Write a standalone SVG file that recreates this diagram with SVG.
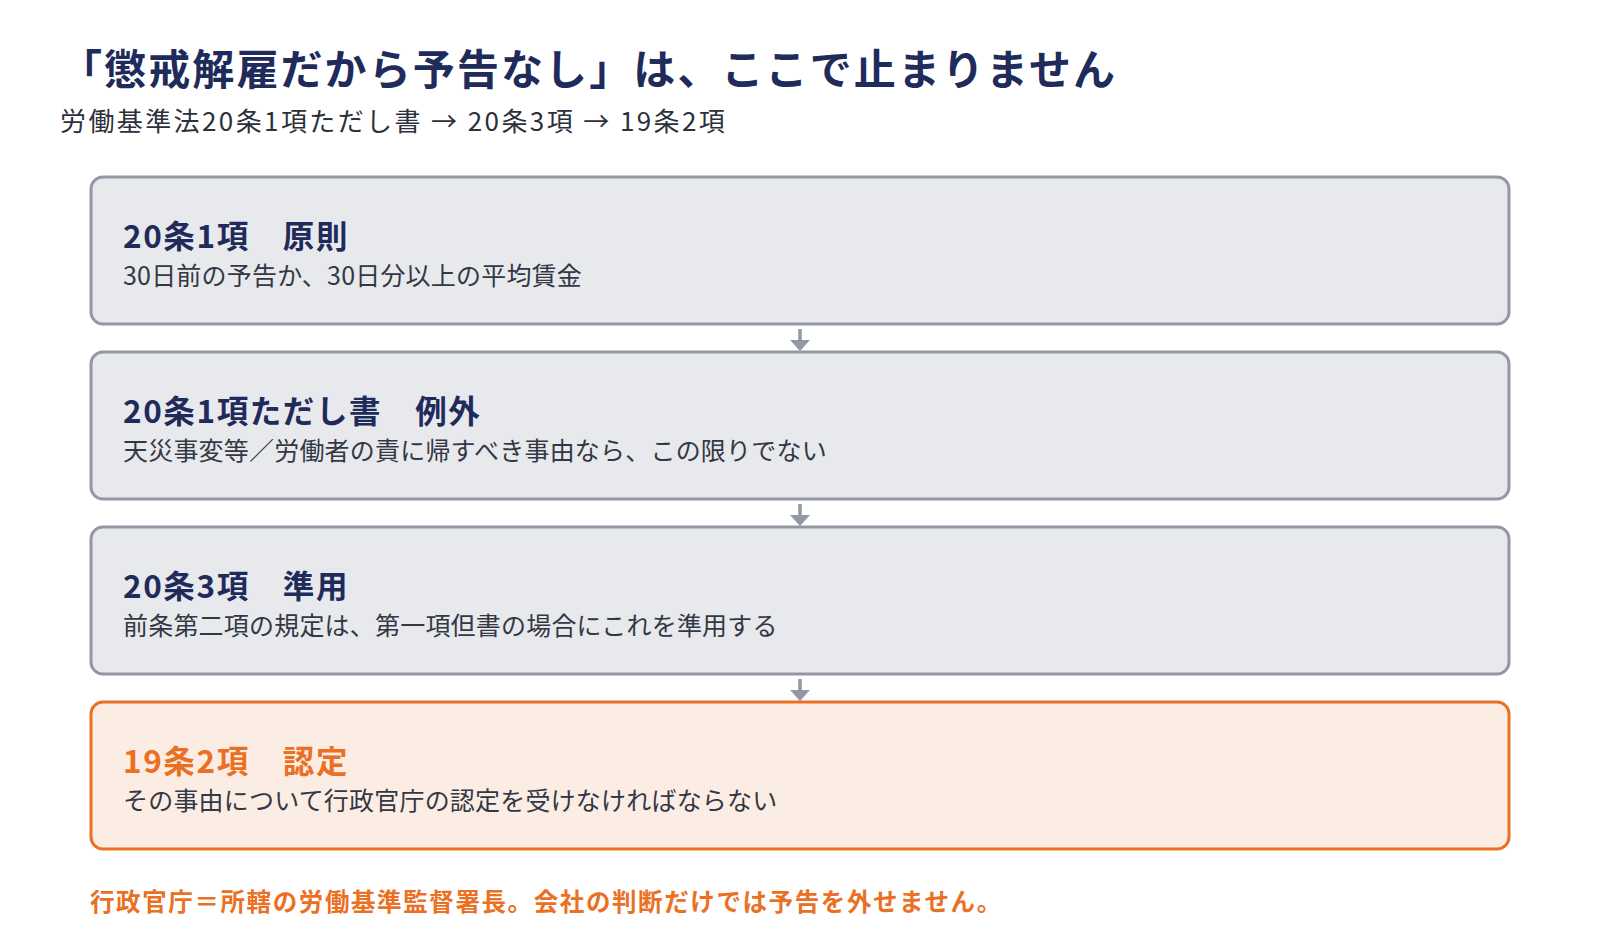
<svg xmlns="http://www.w3.org/2000/svg" width="1600" height="940" viewBox="0 0 1600 940">
<defs>
<style>
.t{font-family:"Noto Sans CJK JP","Noto Sans",sans-serif;}
.title{font-size:42px;font-weight:700;fill:#1f2b5b;letter-spacing:2.1px;}
.sub{font-size:26px;fill:#2b303b;letter-spacing:2.4px;}
.box{fill:#e8e9ed;stroke:#9298a4;stroke-width:3;}
.boxo{fill:#fbede4;stroke:#ea7024;stroke-width:3;}
.h{font-size:31.5px;font-weight:700;fill:#1f2b5b;letter-spacing:1.6px;}
.ho{font-size:31.5px;font-weight:700;fill:#ea7024;letter-spacing:1.6px;}
.d{font-size:25px;fill:#333844;letter-spacing:0.2px;}
.note{font-size:24.5px;font-weight:700;fill:#ea7024;letter-spacing:1.6px;}
.conn line{stroke:#9298a4;stroke-width:3.5;}
.conn polygon{fill:#9298a4;}
</style>
</defs>
<rect width="1600" height="940" fill="#ffffff"/>
<g id="title">
<text class="t title" x="60" y="85">「懲戒解雇だから予告なし」は、ここで止まりません</text>
<text class="t sub" x="60" y="131">労働基準法20条1項ただし書 → 20条3項 → 19条2項</text>
</g>
<g id="node1">
<rect class="box" x="91" y="177" width="1418" height="147" rx="12"/>
<text class="t h" x="123" y="248">20条1項　原則</text>
<text class="t d" x="123" y="285">30日前の予告か、30日分以上の平均賃金</text>
</g>
<g id="node2">
<rect class="box" x="91" y="352" width="1418" height="147" rx="12"/>
<text class="t h" x="123" y="423">20条1項ただし書　例外</text>
<text class="t d" x="123" y="460">天災事変等／労働者の責に帰すべき事由なら、この限りでない</text>
</g>
<g id="node3">
<rect class="box" x="91" y="527" width="1418" height="147" rx="12"/>
<text class="t h" x="123" y="598">20条3項　準用</text>
<text class="t d" x="123" y="635">前条第二項の規定は、第一項但書の場合にこれを準用する</text>
</g>
<g id="node4">
<rect class="boxo" x="91" y="702" width="1418" height="147" rx="12"/>
<text class="t ho" x="123" y="773">19条2項　認定</text>
<text class="t d" x="123" y="810">その事由について行政官庁の認定を受けなければならない</text>
</g>
<g id="connectors" class="conn">
<line x1="800" y1="329" x2="800" y2="342"/>
<polygon points="790,340 810,340 800,351"/>
<line x1="800" y1="504" x2="800" y2="517"/>
<polygon points="790,515 810,515 800,526"/>
<line x1="800" y1="679" x2="800" y2="692"/>
<polygon points="790,690 810,690 800,701"/>
</g>
<g id="footnote">
<text class="t note" x="90" y="911">行政官庁＝所轄の労働基準監督署長。会社の判断だけでは予告を外せません。</text>
</g>
</svg>
